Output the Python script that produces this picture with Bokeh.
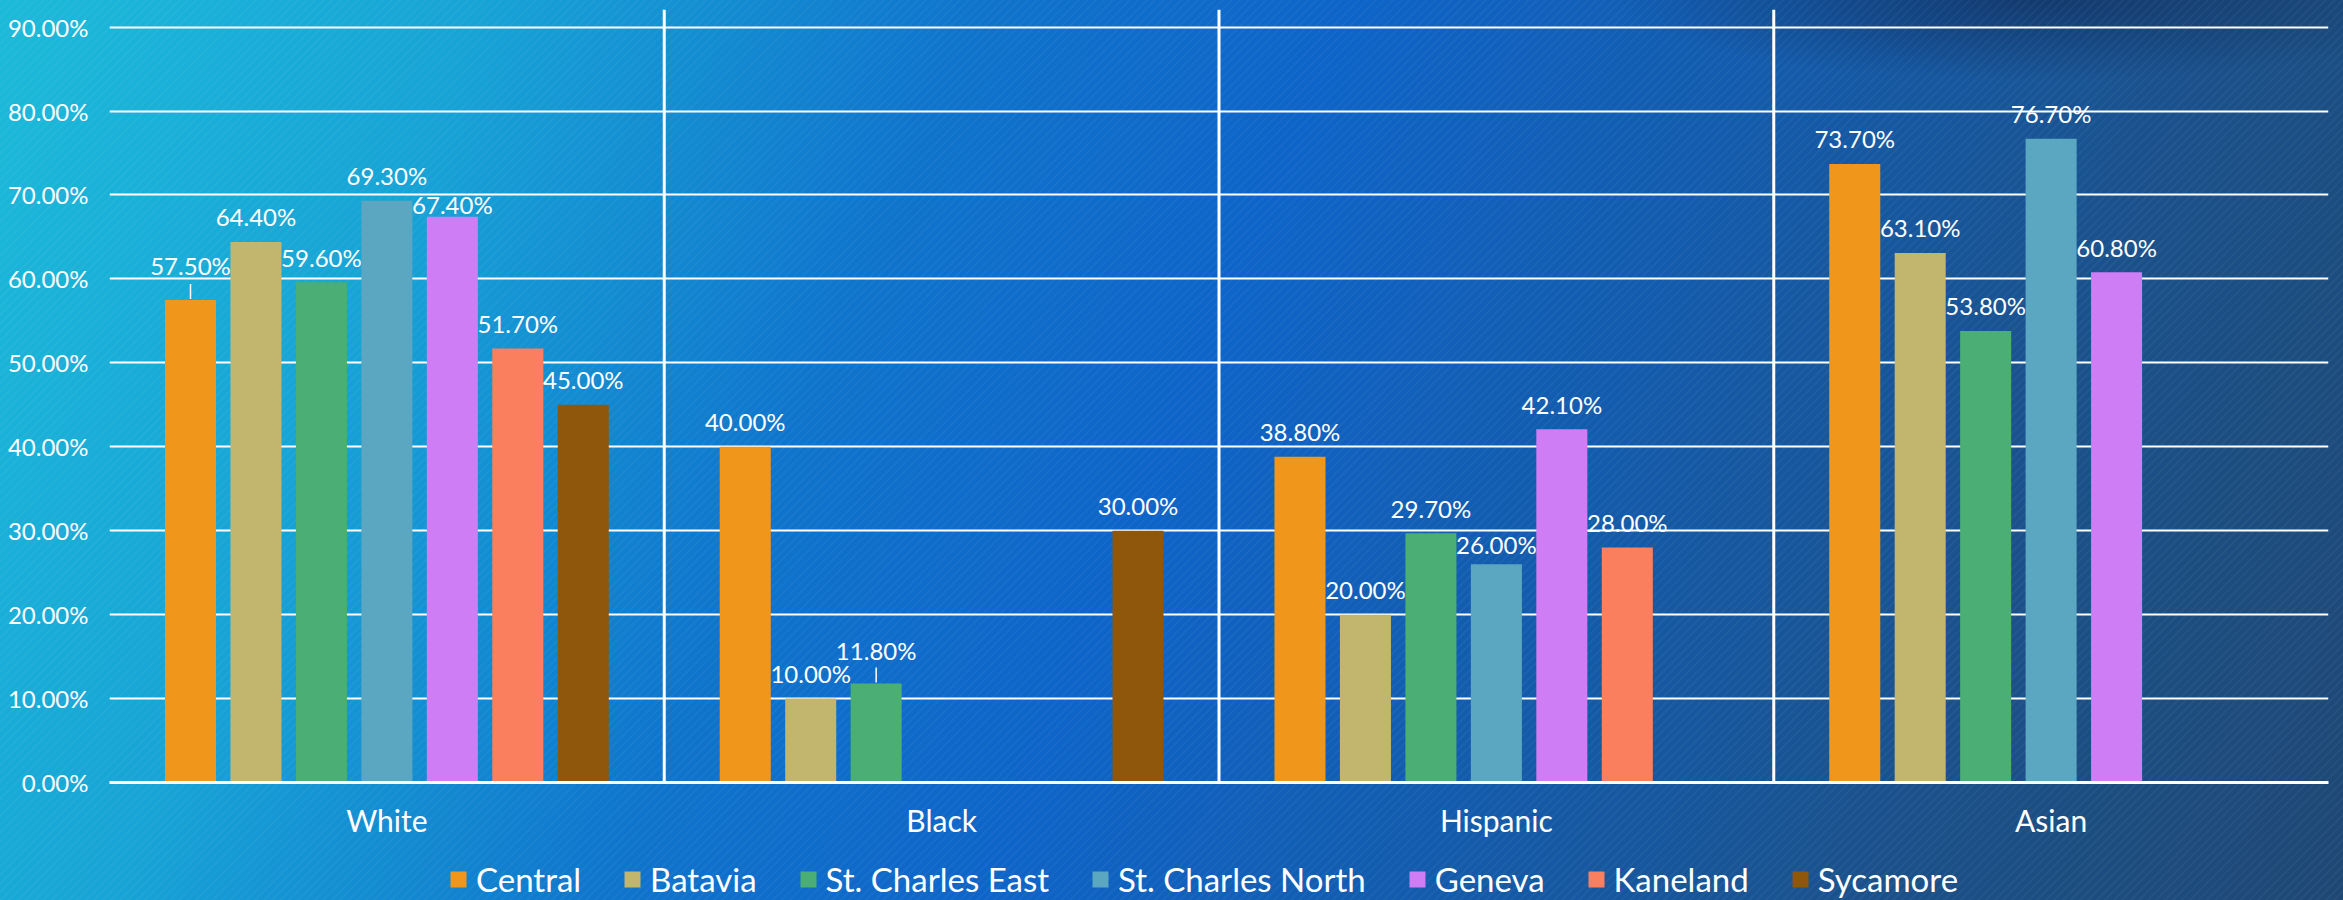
import numpy as np
from bokeh.plotting import figure
from bokeh.layouts import column
from bokeh.models import (ColumnDataSource, FactorRange, Span, Legend, LegendItem,
                          NumeralTickFormatter, FixedTicker, Range1d)
from bokeh.transform import dodge
from bokeh.core.properties import value
from bokeh.embed import file_html
from bokeh.resources import INLINE

nan = np.nan

# ---------------- data ----------------
categories = ["White", "Black", "Hispanic", "Asian"]
schools = ["Central", "Batavia", "St. Charles East", "St. Charles North",
           "Geneva", "Kaneland", "Sycamore"]
central = [0.575, 0.400, 0.388, 0.737]
batavia = [0.644, 0.100, 0.200, 0.631]
st_charles_east = [0.596, 0.118, 0.297, 0.538]
st_charles_north = [0.693, nan, 0.260, 0.767]
geneva = [0.674, nan, 0.421, 0.608]
kaneland = [0.517, nan, 0.280, nan]
sycamore = [0.450, 0.300, nan, nan]
series = [central, batavia, st_charles_east, st_charles_north, geneva, kaneland, sycamore]
y_ticks = [0.0, 0.1, 0.2, 0.3, 0.4, 0.5, 0.6, 0.7, 0.8, 0.9]

# ---------------- styles ----------------
colors = ["#F0961A", "#C2B56E", "#4BAE74", "#5BA6C0", "#CF7DF5", "#FA7F5F", "#8F570B"]
FONT = "Lato"
Y_END = 0.921
FRAME_H = 773
PPU = FRAME_H / Y_END           # screen px per unit of y
BAR_W = 0.092
STEP = 0.118
LABEL_GAP = 25                  # px from bar top to label centre
# extra per-label vertical nudges (px, positive = down) and leader lines
nudge = {("Central", "White"): -9, ("Geneva", "White"): 13,
         ("St. Charles East", "Black"): -8, ("St. Charles North", "Hispanic"): 5}
leaders = {("Central", "White"), ("St. Charles East", "Black")}

bg = ("repeating-linear-gradient(135deg, rgba(255,255,255,0.035) 0px, rgba(255,255,255,0.035) 2px, "
      "rgba(0,0,0,0) 2px, rgba(0,0,0,0) 6px), "
      "radial-gradient(ellipse 18% 9% at 87% 0%, rgba(15,35,75,0.55), rgba(15,35,75,0)), "
      "linear-gradient(112deg, #1cbad9 0%, #17a3d6 18%, #0f74cc 36%, #0e64c8 50%, "
      "#145aa8 68%, #1b5088 84%, #1e4874 100%)")

MAIN_H, LEG_H = 856, 44

p = figure(x_range=FactorRange(factors=categories, range_padding=0),
           y_range=(0, Y_END),
           width=2343, height=MAIN_H,
           min_border_left=109, min_border_right=15, min_border_top=9,
           min_border_bottom=MAIN_H - 9 - FRAME_H,
           output_backend="svg", toolbar_location=None,
           background_fill_color=None, border_fill_color=None, outline_line_color=None)

p.xgrid.grid_line_color = None
p.ygrid.grid_line_color = "white"
p.ygrid.grid_line_width = 2

p.yaxis.ticker = FixedTicker(ticks=y_ticks)
p.yaxis.formatter = NumeralTickFormatter(format="0.00%")
p.yaxis.axis_line_color = None
p.yaxis.major_tick_line_color = None
p.yaxis.major_tick_out = 0
p.yaxis.minor_tick_line_color = None
p.yaxis.minor_tick_out = 0
p.yaxis.major_label_text_font = FONT
p.yaxis.major_label_text_font_size = "24px"
p.yaxis.major_label_text_color = "white"
p.yaxis.major_label_standoff = 21

p.xaxis.axis_line_color = "white"
p.xaxis.axis_line_width = 3
p.xaxis.major_tick_line_color = None
p.xaxis.major_tick_out = 0
p.xaxis.minor_tick_line_color = None
p.xaxis.minor_tick_out = 0
p.xaxis.major_label_text_font = FONT
p.xaxis.major_label_text_font_size = "30px"
p.xaxis.major_label_text_color = "white"
p.xaxis.major_label_standoff = 19

for loc in [1, 2, 3]:
    p.add_layout(Span(location=loc, dimension="height", line_color="white", line_width=3))

# legend strip (a second figure, so the legend is not clipped by the main frame)
pl = figure(x_range=Range1d(0, 1), y_range=Range1d(0, 1), width=2343, height=LEG_H,
            x_axis_location=None, y_axis_location=None,
            min_border=0, output_backend="svg", toolbar_location=None,
            background_fill_color=None, border_fill_color=None, outline_line_color=None)
pl.grid.visible = False

items = []
for i, (name, vals, col) in enumerate(zip(schools, series, colors)):
    off = (i - 3) * STEP
    src = ColumnDataSource(dict(x=categories, top=np.array(vals, dtype=float)))
    p.vbar(x=dodge("x", off, range=p.x_range), top="top", width=BAR_W, source=src,
           fill_color=col, line_color=None)
    # zero-height proxy glyph that only supplies the legend swatch
    proxy = pl.vbar(x=[0.5], top=[0], bottom=[0], width=0.01, fill_color=col, line_color=None)
    items.append(LegendItem(label=name, renderers=[proxy]))

    lx, ly, lt, ldy = [], [], [], []
    sx, sy0, sy1 = [], [], []
    for cat, v in zip(categories, vals):
        if np.isnan(v):
            continue
        lx.append(cat)
        ly.append(v)
        lt.append(f"{v * 100:.2f}%")
        ldy.append(-LABEL_GAP + nudge.get((name, cat), 0))
        if (name, cat) in leaders:
            sx.append(cat)
            sy0.append(v + 1 / PPU)
            sy1.append(v + 16 / PPU)
    lsrc = ColumnDataSource(dict(x=lx, y=ly, text=lt, dy=ldy))
    p.text(x=dodge("x", off, range=p.x_range), y="y", text="text", y_offset="dy", source=lsrc,
           text_align="center", text_baseline="middle", text_font=value(FONT),
           text_font_size="24px", text_color="white")
    if sx:
        ssrc = ColumnDataSource(dict(x=sx, y0=sy0, y1=sy1))
        p.segment(x0=dodge("x", off, range=p.x_range), y0="y0",
                  x1=dodge("x", off, range=p.x_range), y1="y1",
                  source=ssrc, line_color="white", line_width=1.5)

legend = Legend(items=items, orientation="horizontal", location=(339, 1),
                glyph_width=20, glyph_height=20, label_standoff=8, spacing=41,
                padding=0, margin=0, border_line_color=None, background_fill_alpha=0,
                label_text_font=FONT, label_text_font_size="33px", label_text_color="white")
pl.add_layout(legend)

layout = column(p, pl, spacing=0,
                styles={"position": "absolute", "left": "0px", "top": "0px",
                        "width": "2343px", "height": "900px", "background": bg})

open("out.html", "w").write(file_html(layout, INLINE))
